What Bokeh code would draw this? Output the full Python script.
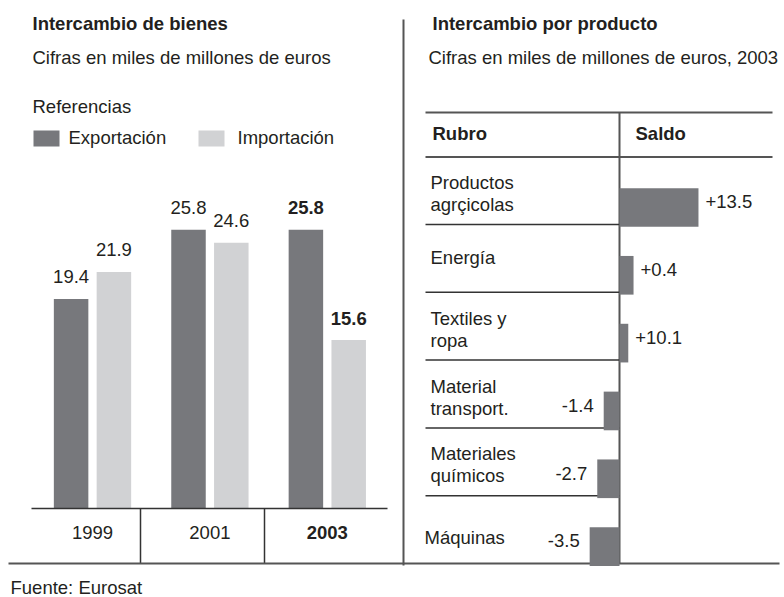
from bokeh.plotting import figure
from bokeh.models import Range1d, ColumnDataSource
from bokeh.embed import file_html
from bokeh.resources import INLINE
from bokeh.core.properties import value

# ---------------- data ----------------
anios = ["1999", "2001", "2003"]
exportacion = [19.4, 25.8, 25.8]
importacion = [21.9, 24.6, 15.6]
resaltado = [False, False, True]

rubros = ["Productos\nagrçicolas", "Energía", "Textiles y\nropa",
          "Material\ntransport.", "Materiales\nquímicos", "Máquinas"]
saldo = [13.5, 0.4, 10.1, -1.4, -2.7, -3.5]
# bar lengths as drawn in the original graphic (not proportional to the labels)
largo_dibujado = [13.5, 2.4, 1.5, -2.7, -3.8, -5.1]

# ---------------- style ----------------
FONT = value("Liberation Sans")
FS = "18.5px"
TXT = "#231f20"
C_EXP = "#77787c"
C_IMP = "#d1d2d4"
LINE = "#555555"
TY = -7  # vertical correction of text baseline (px)

W, H = 784, 597
X0, X1 = 0, W
Y0, Y1 = 0, H

# layout constants (pixel positions of scales)
GX0, GDX = 92.0, 117.4       # first year group centre, spacing
BASE_Y, VPX = 508.0, 10.8    # baseline of left chart, px per unit
SX0, SPX = 619.0, 5.85       # zero line of right chart, px per unit
FY0, FDY = 190.0, 67.83      # first row centre, row height

p = figure(width=W, height=H, x_range=Range1d(X0, X1), y_range=Range1d(Y1, Y0),
           output_backend="svg", toolbar_location=None, min_border=0,
           x_axis_location=None, y_axis_location=None, outline_line_color=None,
           background_fill_color="white", border_fill_color="white")
p.xgrid.visible = False
p.ygrid.visible = False

p.extra_x_ranges = {
    "anio": Range1d((X0 - GX0) / GDX, (X1 - GX0) / GDX),
    "saldo": Range1d((X0 - SX0) / SPX, (X1 - SX0) / SPX),
}
p.extra_y_ranges = {
    "valor": Range1d((BASE_Y - Y1) / VPX, (BASE_Y - Y0) / VPX),
    "fila": Range1d((Y1 - FY0) / FDY, (Y0 - FY0) / FDY),
}


def txt(x, y, s, bold=False, align="left", **kw):
    p.text(x=[x], y=[y], text=[s], text_font=FONT, text_font_size=FS,
           text_font_style="bold" if bold else "normal", text_color=TXT,
           text_align=align, text_baseline="alphabetic", y_offset=TY, **kw)


# ---------------- left panel ----------------
txt(32, 30, "Intercambio de bienes", bold=True)
txt(32, 64, "Cifras en miles de millones de euros")
txt(32, 113, "Referencias")
p.quad(left=[33], right=[59], top=[130], bottom=[146], fill_color=C_EXP, line_color=None)
txt(68, 144, "Exportación")
p.quad(left=[198], right=[224], top=[130], bottom=[146], fill_color=C_IMP, line_color=None)
txt(237, 144, "Importación")

DODGE, BW = 21.4 / GDX, 34.5 / GDX
idx = list(range(len(anios)))
src = ColumnDataSource(dict(
    x_exp=[i - DODGE for i in idx], x_imp=[i + DODGE for i in idx], x=idx,
    exp=exportacion, imp=importacion, anio=anios,
    exp_lbl=[f"{v:.1f}" for v in exportacion], imp_lbl=[f"{v:.1f}" for v in importacion],
    estilo=["bold" if r else "normal" for r in resaltado],
))
p.vbar(x="x_exp", top="exp", bottom=0, width=BW, source=src, fill_color=C_EXP,
       line_color=None, x_range_name="anio", y_range_name="valor")
p.vbar(x="x_imp", top="imp", bottom=0, width=BW, source=src, fill_color=C_IMP,
       line_color=None, x_range_name="anio", y_range_name="valor")
for xc, yc, lc in (("x_exp", "exp", "exp_lbl"), ("x_imp", "imp", "imp_lbl")):
    p.text(x=xc, y=yc, text=lc, source=src, y_offset=-15 + TY, text_font=FONT,
           text_font_size=FS, text_font_style="estilo", text_color=TXT,
           text_align="center", text_baseline="alphabetic",
           x_range_name="anio", y_range_name="valor")
p.text(x="x", y=539, text="anio", source=src, text_font=FONT, text_font_size=FS,
       text_font_style="estilo", text_color=TXT, text_align="center",
       text_baseline="alphabetic", y_offset=TY, x_range_name="anio")

# axis / table lines of left panel
p.segment(x0=[31], y0=[508], x1=[387], y1=[508], line_color="#333333", line_width=1.5)
p.segment(x0=[140, 264], y0=[508, 508], x1=[140, 264], y1=[563, 563],
          line_color="#333333", line_width=1.5)

# separator and bottom rule
p.segment(x0=[403], y0=[19], x1=[403], y1=[565], line_color=LINE, line_width=2)
p.segment(x0=[8], y0=[563], x1=[779], y1=[563], line_color=LINE, line_width=2)

# ---------------- right panel ----------------
txt(432, 30, "Intercambio por producto", bold=True)
txt(428, 64, "Cifras en miles de millones de euros, 2003")

p.segment(x0=[425, 425], y0=[112, 156.5], x1=[772, 772], y1=[112, 156.5],
          line_color=LINE, line_width=2)
p.segment(x0=[619], y0=[112], x1=[619], y1=[563], line_color=LINE, line_width=2)
txt(432, 140, "Rubro", bold=True)
txt(635, 140, "Saldo", bold=True)

n = len(rubros)
filas = list(range(n))
# row separators (between rows), in row units
p.segment(x0=[425] * (n - 1), y0=[k + 0.5 for k in filas[:-1]],
          x1=[619] * (n - 1), y1=[k + 0.5 for k in filas[:-1]],
          line_color="#333333", line_width=1.5, y_range_name="fila")

rsrc = ColumnDataSource(dict(
    y=[k + 0.25 for k in filas], largo=largo_dibujado,
    lbl=[("+" if v > 0 else "") + f"{v:.1f}" for v in saldo],
))
p.hbar(y="y", left=0, right="largo", height=0.57, source=rsrc, fill_color=C_EXP,
       line_color=None, x_range_name="saldo", y_range_name="fila")

pos = [k for k in filas if saldo[k] > 0]
neg = [k for k in filas if saldo[k] <= 0]
for sel, off, al in ((pos, 7, "left"), (neg, -10, "right")):
    p.text(x=[largo_dibujado[k] for k in sel], y=[k + 0.27 for k in sel],
           text=[rsrc.data["lbl"][k] for k in sel], x_offset=off, y_offset=TY,
           text_font=FONT, text_font_size=FS, text_color=TXT, text_align=al,
           text_baseline="alphabetic", x_range_name="saldo", y_range_name="fila")

# row labels
lx, ly, lt = [], [], []
for k, r in enumerate(rubros):
    partes = r.split("\n")
    if len(partes) == 2:
        lx += [430, 430]
        ly += [k - 0.013, k + 0.31]
        lt += partes
    else:
        last = k == n - 1
        lx.append(424 if last else 430)
        ly.append(k + (0.22 if last else 0.09))
        lt.append(partes[0])
p.text(x=lx, y=ly, text=lt, text_font=FONT, text_font_size=FS, text_color=TXT,
       text_align="left", text_baseline="alphabetic", y_offset=TY,
       y_range_name="fila")

# source
txt(10, 594, "Fuente: Eurosat")

open("out.html", "w").write(file_html(p, INLINE))
